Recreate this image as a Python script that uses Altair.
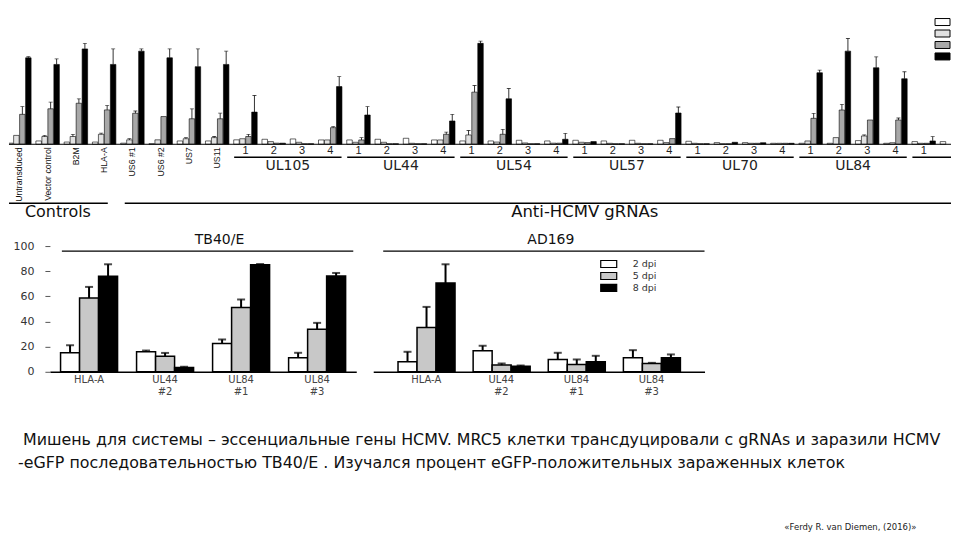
import altair as alt
import pandas as pd

# ---------------- data: top panel ----------------
control_labels = ["Untransduced", "Vector control", "B2M", "HLA-A", "US6 #1", "US6 #2", "US7", "US11"]
gene_names = ["UL105", "UL44", "UL54", "UL57", "UL70", "UL84", "UL86"]
guide_numbers = ["1", "2", "3", "4"]
top_series = ["time 1", "time 2", "time 3", "time 4"]

# 34 visible groups: 8 controls + 6 genes x 4 guides + 2 guides of the last gene
top_white = [1, 3, 2, 2, 1, 0.5, 3, 3,
             4, 4.5, 4.8, 3.9, 3.9, 4.5, 5.4, 3.9, 3, 3, 3.6, 3, 3.6, 3, 3.6, 3.6,
             2.7, 1.5, 1.5, 0.9, 0.9, 0.9, 3.3, 0.9, 2.4, 2.4]
top_lgray = [8, 7, 7, 9, 4, 4, 5, 6,
             5, 2.4, 1.8, 3.9, 1.8, 1.8, 0.9, 3.9, 8.4, 2, 1.2, 1, 1.8, 0.9, 0.9, 1.5,
             0.9, 0.5, 0.9, 0.9, 3, 6, 7.5, 1.4, 0.9, 2.4]
top_gray = [27, 32, 37, 31, 28, 25, 23, 23,
            7, 1, 0.5, 15, 3.9, 0.5, 0.5, 9, 47, 9, 0.5, 1, 1.5, 0.5, 0.5, 5.1,
            0.5, 0.5, 0.9, 0.9, 23.4, 30.9, 21.9, 21.9, 0.9, 1]
top_black = [78, 72, 86, 72, 84, 78, 70, 72,
             29, 1, 0.5, 52, 26.4, 0.5, 0.5, 21, 91, 41, 0.5, 4.5, 2.4, 0.5, 0.5, 28.2,
             0.5, 1.8, 1.4, 0.9, 64.5, 84, 69, 59.1, 3, 1]
top_white_err = [0] * 34
top_lgray_err = [0, 1, 2, 1, 1, 0, 1, 1,
                 0, 0, 0, 0, 0, 0, 0, 0, 4, 0, 0, 0, 0, 0, 0, 0,
                 0, 0, 0, 0, 0, 0, 1, 0, 0, 0]
top_gray_err = [7, 6, 4, 4, 2, 0, 9, 5,
                2, 0, 0, 1, 2, 0, 0, 2, 6, 4.5, 0, 0, 0, 0, 0, 0,
                0, 0, 0, 0, 4.5, 5.1, 0, 1.8, 0, 0]
top_black_err = [1, 5, 5, 14, 2, 8, 16, 12,
                 15, 0, 0, 9, 7.5, 0, 0, 6, 2, 9.3, 0, 5.4, 0, 0, 0, 5.4,
                 0, 0, 0, 0, 2.4, 11.4, 9.9, 6.3, 3.9, 0]

# ---------------- data: bottom panels ----------------
bottom_groups = ["HLA-A", "UL44 #2", "UL84 #1", "UL84 #3"]
bottom_dpi = ["2 dpi", "5 dpi", "8 dpi"]
tb_2dpi = [15.1, 15.9, 22.5, 11.1]
tb_5dpi = [58.7, 12.4, 51.1, 33.9]
tb_8dpi = [76.0, 3.5, 85.2, 76.2]
tb_2dpi_err = [6.0, 1.0, 3.2, 4.0]
tb_5dpi_err = [8.8, 2.6, 6.4, 5.0]
tb_8dpi_err = [9.5, 0.5, 0.5, 2.4]
ad_2dpi = [7.9, 16.7, 9.8, 11.1]
ad_5dpi = [35.2, 5.3, 5.8, 6.6]
ad_8dpi = [70.6, 4.5, 7.9, 11.1]
ad_2dpi_err = [8.0, 4.0, 5.3, 6.1]
ad_5dpi_err = [16.4, 1.3, 4.0, 0.5]
ad_8dpi_err = [14.9, 0.5, 4.8, 2.7]

caption_line1 = "Мишень для системы – эссенциальные гены HCMV. MRC5 клетки трансдуцировали с  gRNAs и заразили HCMV"
caption_line2 = "-eGFP последовательностью TB40/E . Изучался процент  eGFP-положительных зараженных клеток"
citation = "«Ferdy R. van Diemen, (2016)»"

FONT = "DejaVu Sans"
NARROW = "Liberation Sans, Arial, sans-serif"

# ---------------- top panel ----------------
vals = [top_white, top_lgray, top_gray, top_black]
errs = [top_white_err, top_lgray_err, top_gray_err, top_black_err]
rows = []
for gi in range(len(top_white)):
    for k, s in enumerate(top_series):
        rows.append(dict(gi=gi, k=k, series=s, value=vals[k][gi], err=errs[k][gi]))
df_top = pd.DataFrame(rows)

TOP_W, TOP_H = 944, 214
X_MIN, X_MAX = -0.367, 32.966
XS = alt.Scale(domain=[X_MIN, X_MAX], nice=False, zero=False, padding=0)
YS = alt.Scale(domain=[-70.2, 122.4], nice=False, zero=False, padding=0)

tbase = alt.Chart(df_top).transform_calculate(
    xc="datum.gi + (datum.k - 1.5) * 0.212", top="datum.value + datum.err"
).transform_filter(f"datum.xc + 0.1 <= {X_MAX}")

sym_top = "M-1.5,-0.7H1.5V0.7H-1.5Z"
top_bars = tbase.mark_bar(size=5.5, stroke="black", strokeWidth=0.6, clip=True).encode(
    x=alt.X("xc:Q", scale=XS, axis=None),
    y=alt.Y("value:Q", scale=YS, axis=None),
    y2=alt.datum(0),
    color=alt.Color("series:N", sort=top_series,
                    scale=alt.Scale(domain=top_series, range=["#ffffff", "#e2e2e2", "#a8a8a8", "#000000"]),
                    legend=alt.Legend(orient="none", legendX=930, legendY=8, title=None,
                                      symbolType=sym_top, symbolSize=100, symbolStrokeColor="black",
                                      symbolStrokeWidth=1, labelExpr="''", labelOffset=0,
                                      labelFontSize=10, rowPadding=0.5, padding=0)),
)
top_err = tbase.transform_filter("datum.err > 0").mark_rule(color="black", strokeWidth=0.8, clip=True).encode(
    x=alt.X("xc:Q", scale=XS, axis=None), y=alt.Y("value:Q", scale=YS, axis=None), y2="top:Q")
top_caps = tbase.transform_filter("datum.err > 0").mark_tick(
    orient="horizontal", size=4, thickness=0.8, color="black", clip=True).encode(
    x=alt.X("xc:Q", scale=XS, axis=None), y=alt.Y("top:Q", scale=YS, axis=None))
top_base_line = alt.Chart(pd.DataFrame({"z": [0]})).mark_rule(color="black", strokeWidth=1).encode(
    y=alt.Y("z:Q", scale=YS, axis=None), x=alt.value(0), x2=alt.value(TOP_W))

df_ctrl = pd.DataFrame({"gi": list(range(len(control_labels))), "label": control_labels})
ctrl_text = alt.Chart(df_ctrl).mark_text(angle=270, align="right", baseline="middle",
                                         fontSize=8.8, font=NARROW, color="#111").encode(
    x=alt.X("gi:Q", scale=XS, axis=None), y=alt.value(139), text="label:N")

n_ctrl = len(control_labels)
guide_rows, gene_rows = [], []
for j, g in enumerate(gene_names):
    first = n_ctrl + 4 * j
    for q, num in enumerate(guide_numbers):
        guide_rows.append(dict(gi=first + q, num=num))
    gene_rows.append(dict(gene=g, x1=first - 0.4, x2=first + 3.4, xm=first + 1.5))
df_guides = pd.DataFrame(guide_rows)
df_genes = pd.DataFrame(gene_rows)

guide_text = alt.Chart(df_guides).transform_filter(f"datum.gi + 0.15 <= {X_MAX}").mark_text(
    fontSize=11, font="Liberation Sans", color="#222", baseline="middle", clip=True).encode(
    x=alt.X("gi:Q", scale=XS, axis=None), y=alt.value(143), text="num:N")
gene_lines = alt.Chart(df_genes).transform_calculate(
    x2c=f"min(datum.x2, {X_MAX})").mark_rule(color="black", strokeWidth=1.5, clip=True).encode(
    x=alt.X("x1:Q", scale=XS, axis=None), x2="x2c:Q", y=alt.value(149))
gene_text = alt.Chart(df_genes).transform_filter(f"datum.xm + 0.8 <= {X_MAX}").mark_text(
    fontSize=14, font=FONT, color="#222", baseline="middle", clip=True).encode(
    x=alt.X("xm:Q", scale=XS, axis=None), y=alt.value(158), text="gene:N")

sec = pd.DataFrame({"t": ["Controls", "Anti-HCMV gRNAs"]})
sec_ctrl_line = alt.Chart(sec.iloc[[0]]).mark_rule(color="black", strokeWidth=1.5).encode(
    x=alt.value(0), x2=alt.value(99), y=alt.value(195))
sec_anti_line = alt.Chart(sec.iloc[[1]]).mark_rule(color="black", strokeWidth=1.5).encode(
    x=alt.value(116), x2=alt.value(TOP_W), y=alt.value(195))
sec_ctrl_text = alt.Chart(sec.iloc[[0]]).mark_text(fontSize=16, font=FONT, color="#111", baseline="middle").encode(
    x=alt.value(49), y=alt.value(204), text="t:N")
sec_anti_text = alt.Chart(sec.iloc[[1]]).mark_text(fontSize=16.5, font=FONT, color="#111", baseline="middle").encode(
    x=alt.value(577), y=alt.value(204), text="t:N")

top_chart = alt.layer(top_bars, top_err, top_caps, top_base_line, ctrl_text, guide_text,
                      gene_lines, gene_text, sec_ctrl_line, sec_anti_line,
                      sec_ctrl_text, sec_anti_text).properties(width=TOP_W, height=TOP_H)

# ---------------- bottom panels ----------------
sym_bot = "M-1.6,-0.7H1.6V0.7H-1.6Z"


def panel(v, e, width, pad_outer, show_y, show_legend, title, title_x, lx1, lx2):
    rws = []
    for gi, g in enumerate(bottom_groups):
        for k, d in enumerate(bottom_dpi):
            rws.append(dict(group=g, dpi=d, value=v[k][gi], err=e[k][gi]))
    df = pd.DataFrame(rws)
    base = alt.Chart(df).transform_calculate(top="datum.value + datum.err")
    X = alt.X("group:N", sort=bottom_groups,
              scale=alt.Scale(paddingInner=0.25, paddingOuter=pad_outer),
              axis=alt.Axis(title=None, labelAngle=0, ticks=False, domainColor="black",
                            domainWidth=1.5, labelExpr="split(datum.label, ' ')",
                            labelFontSize=10, labelColor="#444", labelPadding=3,
                            labelFont=FONT, labelLineHeight=12))
    XO = alt.XOffset("dpi:N", sort=bottom_dpi, scale=alt.Scale(domain=bottom_dpi, paddingInner=0, paddingOuter=0))
    yaxis = alt.Axis(title=None, values=[0, 20, 40, 60, 80, 100], grid=False, domain=False,
                     tickSize=5, tickColor="#555", labelFontSize=11, labelColor="#333",
                     labelPadding=11, labelFont=FONT) if show_y else None
    Y = alt.Y("value:Q", scale=alt.Scale(domain=[0, 100], nice=False), axis=yaxis)
    legend = alt.Legend(orient="none", legendX=230, legendY=12, title=None, symbolType=sym_bot,
                        symbolSize=100, symbolStrokeColor="black", symbolStrokeWidth=1.2,
                        labelFontSize=9.5, labelFont=FONT, labelColor="#333", labelOffset=18,
                        rowPadding=-0.5, padding=0) if show_legend else None
    bars = base.mark_bar(stroke="black", strokeWidth=1.5).encode(
        x=X, xOffset=XO, y=Y,
        color=alt.Color("dpi:N", sort=bottom_dpi,
                        scale=alt.Scale(domain=bottom_dpi, range=["#ffffff", "#c8c8c8", "#000000"]),
                        legend=legend))
    err = base.mark_rule(color="black", strokeWidth=2).encode(x=X, xOffset=XO, y=Y, y2="top:Q")
    caps = base.mark_tick(size=8, thickness=2, color="black").encode(
        x=X, xOffset=XO, y=alt.Y("top:Q", scale=alt.Scale(domain=[0, 100], nice=False), axis=yaxis))
    tdf = pd.DataFrame({"t": [title]})
    tline = alt.Chart(tdf).mark_rule(color="black", strokeWidth=1.2).encode(
        x=alt.value(lx1), x2=alt.value(lx2), y=alt.value(5))
    ttext = alt.Chart(tdf).mark_text(fontSize=14, font=FONT, color="#111", baseline="middle").encode(
        x=alt.value(title_x), y=alt.value(-6), text="t:N")
    return alt.layer(bars, err, caps, tline, ttext).properties(width=width, height=126)


tb_chart = panel([tb_2dpi, tb_5dpi, tb_8dpi], [tb_2dpi_err, tb_5dpi_err, tb_8dpi_err],
                 307, 0.14, True, False, "TB40/E", 170, 12, 304)
ad_chart = panel([ad_2dpi, ad_5dpi, ad_8dpi], [ad_2dpi_err, ad_5dpi_err, ad_8dpi_err],
                 332, 0.33, False, True, "AD169", 178, 10, 332)

spacer = alt.Chart(pd.DataFrame({"v": [0]})).mark_point(opacity=0).encode(
    x=alt.X("v:Q", axis=None), y=alt.Y("v:Q", axis=None)).properties(width=24, height=126)

middle = alt.hconcat(spacer, tb_chart, ad_chart, spacing=17, bounds="flush").resolve_scale(
    color="independent").resolve_legend(color="independent")

# ---------------- caption ----------------
# (the flush-bounded middle row adds no height, so the caption row starts right under it)
cap_df = pd.DataFrame({"t": [caption_line1, caption_line2, citation]})
cap1 = alt.Chart(cap_df.iloc[[0]]).mark_text(align="left", baseline="middle", fontSize=15.9, font=FONT, color="#111").encode(
    x=alt.value(14), y=alt.value(170), text="t:N")
cap2 = alt.Chart(cap_df.iloc[[1]]).mark_text(align="left", baseline="middle", fontSize=15.9, font=FONT, color="#111").encode(
    x=alt.value(9), y=alt.value(193), text="t:N")
cap3 = alt.Chart(cap_df.iloc[[2]]).mark_text(align="left", baseline="middle", fontSize=8.5, font=FONT, color="#222").encode(
    x=alt.value(777), y=alt.value(258), text="t:N")
caption = alt.layer(cap1, cap2, cap3).properties(width=900, height=250)

chart = alt.vconcat(top_chart, middle, caption, spacing=24, bounds="flush").resolve_scale(
    color="independent").resolve_legend(color="independent").properties(
    padding=0, background="white").configure_view(strokeWidth=0)

chart.save("out.html", embed_options={"renderer": "svg", "actions": False})
